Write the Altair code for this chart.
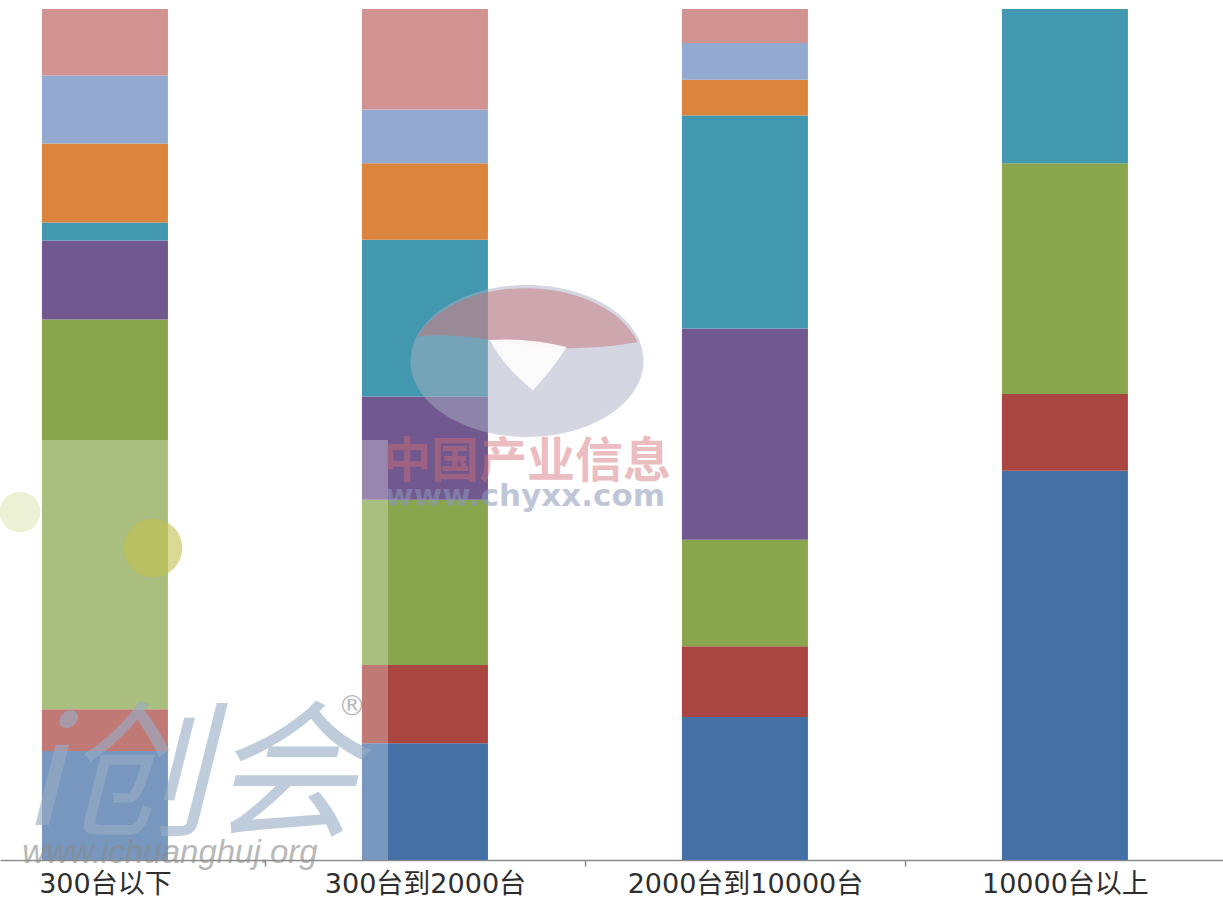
import json
import altair as alt
import pandas as pd

# ---- data (percent of each category, bottom to top) ----
categories = ["300台以下", "300台到2000台", "2000台到10000台", "10000台以上"]
series = ["系列1", "系列2", "系列3", "系列4", "系列5", "系列6", "系列7", "系列8"]
colors = ["#4570A6", "#A94642", "#89A54E", "#71588F", "#4198AF", "#DB843D", "#93A9CF", "#D19392"]
values = {
    "系列1": [12.8, 13.7, 16.8, 45.7],
    "系列2": [4.9, 9.2, 8.3, 9.0],
    "系列3": [45.8, 19.4, 12.5, 27.1],
    "系列4": [9.3, 12.1, 24.8, 0.0],
    "系列5": [2.1, 18.4, 25.0, 18.1],
    "系列6": [9.3, 9.0, 4.2, 0.0],
    "系列7": [8.0, 6.3, 4.3, 0.0],
    "系列8": [7.8, 11.8, 4.0, 0.0],
}

rows = []
for si, s in enumerate(series):
    for ci, c in enumerate(categories):
        rows.append({"cat": c, "pos": ci, "series": s, "order": si, "value": values[s][ci]})
df = pd.DataFrame(rows)

W, H = 1223, 851
xscale = alt.Scale(domain=[-0.328, 3.494], nice=False, zero=False, padding=0)

bars = alt.Chart(df).mark_bar(size=126).encode(
    x=alt.X("pos:Q", scale=xscale,
            axis=alt.Axis(orient="bottom", values=[0.5, 1.5, 2.5, 3.5], labels=False, title=None,
                          grid=False, tickSize=6, tickColor="#8C8C8C", tickWidth=1.5,
                          domainColor="#8C8C8C", domainWidth=1.5)),
    y=alt.Y("value:Q", stack="normalize", scale=alt.Scale(domain=[0, 1], nice=False), axis=None),
    color=alt.Color("series:N", scale=alt.Scale(domain=series, range=colors), legend=None),
    order=alt.Order("order:Q", sort="ascending"),
)

label_expr = json.dumps(categories, ensure_ascii=False) + "[round(datum.value)]"
labels_layer = alt.Chart(pd.DataFrame({"pos": list(range(len(categories)))})).mark_point(opacity=0).encode(
    x=alt.X("pos:Q", scale=xscale,
            axis=alt.Axis(orient="bottom", values=list(range(len(categories))), labelExpr=label_expr,
                          title=None, grid=False, ticks=False, domain=False, labelPadding=11,
                          labelFontSize=27, labelColor="#2E2E2E", labelLimit=0,
                          labelFont="DejaVu Sans, Noto Sans CJK SC", labelFontWeight="normal")),
)

# ---- watermarks (decoration) ----
one = pd.DataFrame({"k": [0]})
wm_rect = alt.Chart(one).mark_rect(color="white", opacity=0.28).encode(
    x=alt.value(0), x2=alt.value(388), y=alt.value(431), y2=alt.value(851)
)
ELLIPSE = "M -1 0 A 1 0.652 0 1 0 1 0 A 1 0.652 0 1 0 -1 0 Z"
CRESCENT = "M -0.94 -0.21 A 1 0.652 0 0 1 0.95 -0.16 Q 0.3 -0.05 -0.32 -0.18 Q -0.7 -0.24 -0.94 -0.21 Z"
HOLE = "M -0.32 -0.18 Q 0 -0.2 0.34 -0.12 Q 0.2 0.1 0.05 0.25 Q -0.2 0.05 -0.32 -0.18 Z"
logo_size = 233 * 233
logo_gray = alt.Chart(one).mark_point(shape=ELLIPSE, filled=True, size=logo_size, strokeWidth=0,
                                      color="#A9AFC4", opacity=0.5).encode(x=alt.value(527), y=alt.value(352))
logo_pink = alt.Chart(one).mark_point(shape=CRESCENT, filled=True, size=logo_size, strokeWidth=0,
                                      color="#C86A70", opacity=0.45).encode(x=alt.value(527), y=alt.value(352))
logo_hole = alt.Chart(one).mark_point(shape=HOLE, filled=True, size=logo_size, strokeWidth=0,
                                      color="white", opacity=0.9).encode(x=alt.value(527), y=alt.value(352))
dot1 = alt.Chart(one).mark_point(filled=True, shape="circle", size=1660, strokeWidth=0,
                                 color="#E6ECC4", opacity=0.7).encode(x=alt.value(20), y=alt.value(503))
dot2 = alt.Chart(one).mark_point(filled=True, shape="circle", size=3420, strokeWidth=0,
                                 color="#C2C14E", opacity=0.6).encode(x=alt.value(153), y=alt.value(539))
txt_i = alt.Chart(pd.DataFrame({"t": ["i创会"]})).mark_text(
    font="Noto Sans CJK SC", fontSize=148, fontStyle="italic", color="#98ADC6", opacity=0.62,
    align="center", baseline="middle").encode(text="t:N", x=alt.value(190), y=alt.value(772))
txt_reg = alt.Chart(pd.DataFrame({"t": ["®"]})).mark_text(
    font="DejaVu Sans", fontSize=28, color="#AAAAAA", opacity=0.8,
    align="center", baseline="middle").encode(text="t:N", x=alt.value(352), y=alt.value(698))
txt_url1 = alt.Chart(pd.DataFrame({"t": ["www.ichuanghuj.org"]})).mark_text(
    font="Liberation Sans", fontSize=33, fontStyle="italic", color="#8A8A8A", opacity=0.6,
    align="center", baseline="middle").encode(text="t:N", x=alt.value(170), y=alt.value(844))
txt_cn = alt.Chart(pd.DataFrame({"t": ["中国产业信息"]})).mark_text(
    font="Noto Sans CJK SC", fontSize=48, fontWeight="bold", color="#D46F74", opacity=0.45,
    align="center", baseline="middle").encode(text="t:N", x=alt.value(527), y=alt.value(454))
txt_url2 = alt.Chart(pd.DataFrame({"t": ["www.chyxx.com"]})).mark_text(
    font="DejaVu Sans", fontSize=31, fontWeight="bold", color="#8C98BA", opacity=0.55,
    align="center", baseline="middle").encode(text="t:N", x=alt.value(525), y=alt.value(488))

chart = alt.layer(
    bars, labels_layer, logo_gray, logo_pink, logo_hole, wm_rect, dot1, dot2,
    txt_i, txt_reg, txt_url1, txt_cn, txt_url2
).resolve_axis(x="independent").properties(
    width=W, height=H,
    padding={"left": 0, "top": 9, "right": 0, "bottom": 48},
    autosize=alt.AutoSizeParams(type="none"),
    background="white",
).configure_view(stroke=None)

chart.save("out.html", embed_options={"renderer": "svg", "actions": False})
